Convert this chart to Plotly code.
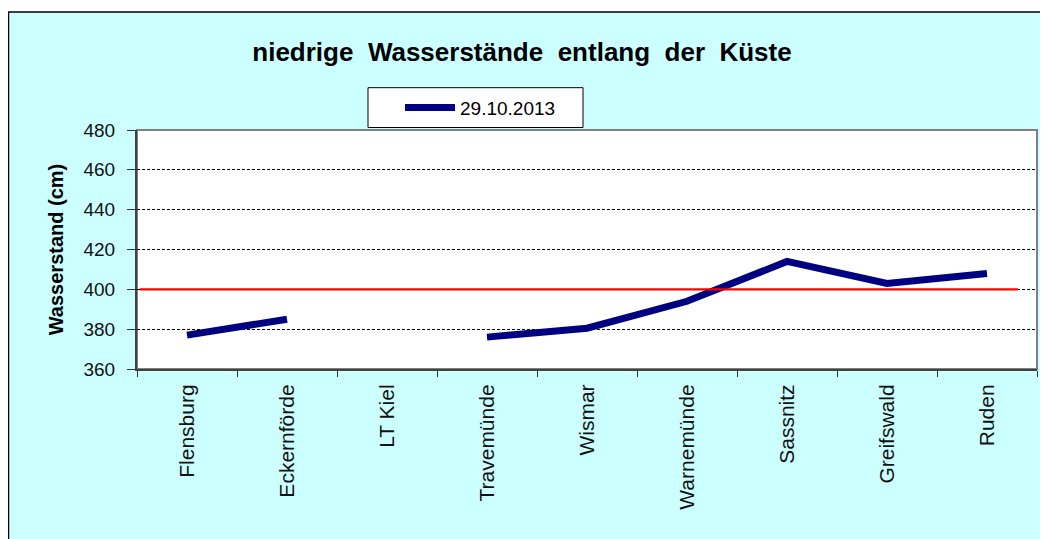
import plotly.graph_objects as go

stations = ["Flensburg", "Eckernförde", "LT Kiel", "Travemünde", "Wismar",
            "Warnemünde", "Sassnitz", "Greifswald", "Ruden"]
levels = [377, 385, None, 376, 380.5, 394, 414, 403, 408]
series_name = "29.10.2013"
threshold = 400
y_ticks = [360, 380, 400, 420, 440, 460, 480]

FONT = "Liberation Sans, Arial, sans-serif"
OFF = 8  # page body margin
W, H = 1040, 531
L, R, T, B = 129, 11, 121.5, 169.5
pw, ph = W - L - R, H - T - B


def px_x(x):  # page x -> paper
    return (x - OFF - L) / pw


def px_y(y):  # page y -> paper
    return (H - B - (y - OFF)) / ph


fig = go.Figure()
fig.add_trace(go.Scatter(
    x=stations, y=levels, mode="lines", name=series_name,
    line=dict(color="#000080", width=7), connectgaps=False,
))

shapes = [
    dict(type="rect", xref="paper", yref="paper", x0=px_x(8.5), x1=px_x(1080),
         y0=px_y(600), y1=px_y(11), fillcolor="#CCFFFF",
         line=dict(color="black", width=1.5), layer="below"),
    dict(type="rect", xref="paper", yref="paper", x0=0, x1=1, y0=0, y1=1,
         fillcolor="white", line=dict(color="#808080", width=2), layer="below"),
    dict(type="rect", xref="paper", yref="paper", x0=px_x(368), x1=px_x(583),
         y0=px_y(127), y1=px_y(87), fillcolor="white",
         line=dict(color="black", width=1), layer="below"),
    dict(type="line", xref="paper", yref="y", x0=0.003, x1=px_x(1018),
         y0=threshold, y1=threshold,
         line=dict(color="#FF0000", width=2.2), layer="above"),
]

fig.update_layout(
    width=W, height=H,
    margin=dict(l=L, r=R, t=T, b=B),
    paper_bgcolor="white", plot_bgcolor="white",
    font=dict(family=FONT, color="black"),
    title=dict(text="<b>niedrige  Wasserstände  entlang  der  Küste</b>",
               x=(522 - OFF) / W, xanchor="center", xref="container",
               y=1 - (52 - OFF) / H, yanchor="middle",
               font=dict(size=26, family=FONT, color="black")),
    shapes=shapes,
    showlegend=True,
    legend=dict(x=px_x(400), y=px_y(107), xanchor="left", yanchor="middle",
                bgcolor="rgba(0,0,0,0)", borderwidth=0,
                font=dict(size=19, family=FONT, color="black"),
                itemwidth=50),
    xaxis=dict(type="category", categoryorder="array", categoryarray=stations,
               tickangle=-90, tickfont=dict(size=21, family=FONT, color="#111111"),
               ticks="outside", ticklen=6, tickcolor="#333333", tickson="boundaries",
               ticklabelstandoff=5,
               showline=True, linecolor="#404040", linewidth=2, showgrid=False,
               range=[-0.5, len(stations) - 0.5], fixedrange=True),
    yaxis=dict(range=[360, 480], tickvals=y_ticks,
               tickfont=dict(size=19, family=FONT, color="#111111"),
               ticks="outside", ticklen=8, tickcolor="#333333", ticklabelstandoff=8,
               showline=True, linecolor="#404040", linewidth=2,
               showgrid=True, gridcolor="black", gridwidth=1, griddash="3px,2px",
               zeroline=False,
               title=dict(text="<b>Wasserstand (cm)</b>", standoff=14,
                          font=dict(size=20, family=FONT, color="black"))),
)

fig.write_html("out.html")
